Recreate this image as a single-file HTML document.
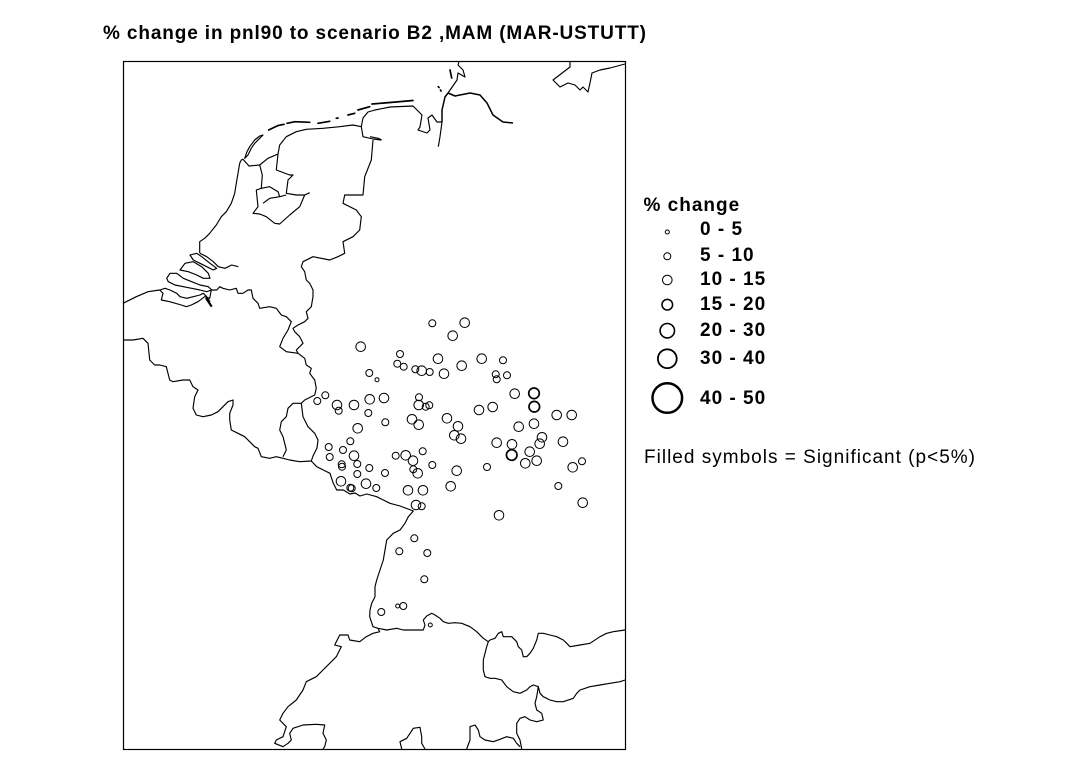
<!DOCTYPE html>
<html>
<head>
<meta charset="utf-8">
<style>
html,body{margin:0;padding:0;background:#fff;}
svg{display:block;}
text{font-family:"Liberation Sans",Arial,sans-serif;fill:#000;}
.b{font-weight:bold;font-size:19px;letter-spacing:1px;}
.m{fill:none;stroke:#000;stroke-width:1.15;stroke-linejoin:round;}
.t{fill:none;stroke:#000;stroke-width:1.7;stroke-linecap:round;}
.p{fill:none;stroke:none;}
.pa{marker-start:url(#ma);marker-mid:url(#ma);marker-end:url(#ma);}
.pb{marker-start:url(#mb);marker-mid:url(#mb);marker-end:url(#mb);}
.pc{marker-start:url(#mc);marker-mid:url(#mc);marker-end:url(#mc);}
.pd{marker-start:url(#md);marker-mid:url(#md);marker-end:url(#md);}
</style>
</head>
<body>
<svg width="1084" height="761" viewBox="0 0 1084 761" xmlns="http://www.w3.org/2000/svg">
<defs>
<marker id="ma" markerWidth="14" markerHeight="14" refX="7" refY="7" markerUnits="userSpaceOnUse" overflow="visible"><circle cx="7" cy="7" r="2" fill="none" stroke="#000" stroke-width="1"/></marker>
<marker id="mb" markerWidth="14" markerHeight="14" refX="7" refY="7" markerUnits="userSpaceOnUse" overflow="visible"><circle cx="7" cy="7" r="3.5" fill="none" stroke="#000" stroke-width="1"/></marker>
<marker id="mc" markerWidth="14" markerHeight="14" refX="7" refY="7" markerUnits="userSpaceOnUse" overflow="visible"><circle cx="7" cy="7" r="4.8" fill="none" stroke="#000" stroke-width="1"/></marker>
<marker id="md" markerWidth="14" markerHeight="14" refX="7" refY="7" markerUnits="userSpaceOnUse" overflow="visible"><circle cx="7" cy="7" r="5.3" fill="none" stroke="#000" stroke-width="1.7"/></marker>
</defs>
<rect x="0" y="0" width="1084" height="761" fill="#fff"/>
<text x="103" y="39" class="b" textLength="544" lengthAdjust="spacing">% change in pnl90 to scenario B2 ,MAM (MAR-USTUTT)</text>
<rect x="123.5" y="61.5" width="502" height="688" fill="none" stroke="#000" stroke-width="1.2"/>
<g class="m">
<path d="M199.7,253.3 L199.7,241.7 204.7,238.3 209.7,233.3 216.3,225 221.3,216.7 226.3,211.7 231.3,203.3 234.7,193.3 236.3,183.3 238,173.3 239.7,163.3 241.3,160 243,159.3 249,166 259.7,165 268,158.3 278,154 279.7,145 286.3,136.7 296.3,131.7 306.3,129.3 323,128.3 339.7,126.7 353,125 361.3,126.7 363,136.7 373,139 381.3,140"/>
<path d="M200,253.3 L206.7,256.7 213.3,261.7 218.3,266.7 225,268.3 231.7,265 238.3,266.7"/>
<path d="M190,255 L196.7,253.3 201.7,256.7 210,263.3 216.7,268.3 213.3,270 206.7,266.7 200,263.3 193.3,260 Z"/>
<path d="M180,270 L185,263.3 193.3,261.7 201.7,266.7 208.3,273.3 210,278.3 203.3,278.3 196.7,275 188.3,271.7 Z"/>
<path d="M166.7,278.3 L170,273.3 176.7,273.3 183.3,278.3 191.7,281.7 200,285 208.3,286.7 211.7,290 206.7,291.7 200,290 191.7,288.3 183.3,286.7 175,285 168.3,281.7 Z"/>
<path d="M160,290 L165,288.3 170,290 176.7,293.3 180,296.7 186.7,298.3 193.3,296.7 200,295 203.3,293.3 206.7,296.7 210,301.7"/>
<path d="M206,298 L211.7,306.7" stroke-width="2.2"/>
<path d="M123,303.3 L136.3,296.7 148,291.7 159.7,290 163,293.3 161.3,300 169.7,301.7 181.3,305 186.3,306.7 191.3,305 198,301.7 204.7,296.7 209.7,298.3 211.3,290 216.7,290 219.7,286.7 223,288.3 229.7,290 236.3,288.3 238,293.3 243,293.3 248,290 251.3,290 253,298.3 258,303.3 259.7,308.3 269.7,306.7 276.3,308.3 281.3,315 286.3,316.7 291.3,321.7 288,330 283,338.3 279.7,346.7 286.3,351.7 298,353.3"/>
<path d="M373,140 L371.3,160 364.7,176.7 363,195 344.7,195 343,203.3 356.3,210 361.3,216.7 359.7,230 353,236.7 343,241.7 344.7,253.3 338,256.7 329.7,260 313,256.7 303,261.7 301.3,266.7 304.7,271.7 306.3,280 309.7,283.3 313,290 313,296.7 311.3,306.7 306.3,311.7 308,318.3 304.7,321.7 298,325 293,328.3 294.7,331.7 299.7,336.7 303,343.3 296.3,350 298,353.3"/>
<path d="M298,353.3 L304.7,358.3 306.3,365 311.3,368.3 309.7,373.3 314.7,380 316.3,388.3 314.7,395 304.7,400 301.3,403.3"/>
<path d="M301.3,403.3 L293,403.3 288,408.3 286.3,416.7 281.3,421.7 279.7,430 283,436.7 284.7,443.3 286.3,450 283,456.7"/>
<path d="M301.3,403.3 L303,416.7 308,426.7 314.7,433.3 318,440 317,448 313,456 311.3,461 316.7,466.7 323.3,470 330,473.3 333.3,483.3 336.7,490 343.3,490 350,494 355,493 360,496 366.7,494 376.7,496.7 383.3,500 390,503.3 400,506 406.7,508.5 413.3,511 408.3,516.7 405,523.3 400,530 393.3,533.3 386.7,540 385,550 383.3,560 380,570 376.7,580 375,586.7 375,596.7 371.7,603.3 370,610 369.7,616.7 373,626.7 378,628.3 386.7,630 396.7,628.3 403.3,630 413.3,630 423.3,630 425,625 423.3,620 426.7,616 431.7,613.3 435,615 440,618.3 443.3,621.7 448.3,623.3 455,622.7 461.7,623.3 470,626.7 476.7,631.7 483.3,638.3 488.3,641.7 490,640 495,638.3 498.3,633.3 501.7,631.7 503.3,636.7 511.7,636.7 516.7,641.7 518.3,646.7 521.7,650 523.3,656.7 526.7,656.7 530,653.3 533.3,648.3 536.7,640 538.3,633.3 543.3,633.3 550,635 556.7,636.7 563.3,640 566.7,643.3 570,646.7 580,645 590,643.3 600,636.7 606.7,633.3 613.3,631.7 625,630"/>
<path d="M378,628.3 L379.7,631.7 373,633.3 366.3,636.7 359.7,641.7 349.7,640 348,635 339.7,635 334.7,645 341.3,646.7 336.3,656.7 323,670 316.3,676.7 306.3,681.7 303,690 296.3,700 288,706.7 283,713.3 279.7,720 286.3,726.7 283,736.7 276.3,740 274.7,743.3 283,746.7 288,743.3 291.3,740 289.7,733.3 293,728.3 303,725 316.3,724.3 324.7,725 323,733.3 326.3,740 324.7,746.7 323,749"/>
<path d="M488.3,641.7 L486.7,646.7 485,653.3 483.3,660 483.3,670 485,676.7 490,678.3 495,678.3 501.7,680 506.7,686.7 513.3,691.7 520,693.3 526.7,690 530,686.7 533.3,685 538.3,686.7 540,693.3 543.3,696.7 550,700 556.7,701.7 563.3,701.7 573.3,698.3 576.7,693.3 580,690 590,686.7 600,685 610,683.3 620,681.7 625,680"/>
<path d="M538.3,686.7 L536.7,696.7 535,703.3 536.7,710 541.7,713.3 543.3,720 536.7,721.7 530,720 525,716.7 520,718.3 516.7,723.3 516.7,733.3 520,740 521.7,749"/>
<path d="M466.7,749 L470,740 470,726.7 475,725 478.3,730 480,736.7 485,740 493.3,741.7 500,739.3 506.7,736.7 513.3,738.3 516.7,743.3 520,746.7"/>
<path d="M401.7,749 L400,741.7 406.7,738.3 410,733.3 413.3,728.3 420,727.3 421.7,736.7 421.7,743.3 425,749"/>
<path d="M123,340 L133,340 143,338.3 148,343.3 149.7,360 154.7,365 159.7,365 166.3,366.7 169.7,380 173,381.7 183,380 189.7,380 193,386.7 198,390 194.7,396.7 193,408.3 196.3,415 203,416.7 211.3,415 218,411.7 223,406.7 228,401.7 233,400 233,405 229.7,413.3 229.7,420 231.3,430 238,433.3 244.7,436.7 249.7,441.7 254.7,446.7 258,448.3 261.3,456.7 269.7,458.3 276.3,456.7 283,458.3 289.7,460 299.7,461.7 311.3,461"/>
<path d="M259.7,165 L262.3,175 261.3,188.3 256.3,190 258,206.7 253,213.3 259.7,214 266.3,216.7 274.7,223.3 279.7,224 289.7,215 299.7,206.7 304.7,195 309.7,192.7"/>
<path d="M278,154 L276.3,170 289.7,175 293,175 288,180 286.3,193.3 296.3,195 304.7,195"/>
<path d="M261.3,188.3 L269.7,186.7 278,191.7 279.7,196.7"/>
<path d="M263,203.3 L269.7,198.3 279.7,196.7 286.3,195"/>
<path d="M361.3,126.7 L363,118 368,112 375,110 390,107 413,106 417,110 422,115 420,127 418,130 427,133 430,130 428,118 432,115 437,122 442,122"/>
<path d="M442,122 L440,136.7 438.3,146.7"/>
<path d="M370,136.7 L378.3,138.3 381.7,140"/>
<path d="M442,122 L442,110 445,97 448,93 455,96 470,93 480,95 487,103 493,115 503,122 513,123" stroke-width="1.5"/>
<path d="M448,93 L457,80 458,73 465,77 463,70 458,65 459,61.5"/>
<path d="M570,61.5 L570,67 553,80 560,87 568,83 575,85 580,90 583,87 588,92 590,83 592,73 600,70 610,68 625,64"/>
<path d="M244.7,158.3 L247,151.7 249.7,146.7 254.7,140 259.7,136 263,135 259.7,138.3 254.7,143.3 251.3,148.3 248,155 Z"/>
</g>
<g class="t">
<path d="M268.7,130 L278,125.5 284,124.3 M287,123.3 L295,121.7 309.7,122.3 M318,123.3 L329.7,121.3 M336.3,118.3 L338,118 M348,115 L354.7,113.3 M358,110 L369.7,106.7 M372,104 L390,102.5 413,100.5 M450,70 L451.7,78 M438.3,86.7 L439,87.5 M440.5,90 L441,91"/>
</g>
<polyline class="p pa" points="377,379.7 397.7,606 430.3,625"/>
<polyline class="p pb" points="432.3,323.3 400,354 503,360.3 397.3,363.7 403.7,366.7 415.3,369.3 429.7,372 369.3,373 495.7,374.3 496.7,379.3 507,375.3 317.3,401 325.3,395.3 338.7,410.7 368.3,413 385.3,422.3 419,397.3 425.7,406.7 429.3,405.3 487,467 350.3,441.3 328.7,447 343,450 329.7,457 357.3,464 341.7,464.3 342,466.7 369.3,468 357.3,474 385,473 350.3,487.7 351.7,488.3 376.3,488 395.7,455.7 422.7,451.3 413.3,469.3 432.3,465 421.7,506.3 558.3,486 582,461.3 414.3,538.3 399.3,551.3 427.3,553 424.3,579.3 381.3,612 403.3,606"/>
<polyline class="p pc" points="464.7,322.7 452.7,335.7 360.7,346.7 438,358.7 481.7,358.7 421.7,370.7 444,373.7 461.7,365.7 514.7,393.7 337,405 354,405 369.7,399.3 384,398 418.7,405 412,419.3 418.7,424.7 447,418.3 458,426.3 454.3,435.3 461,438.7 479,410 492.7,407 518.7,426.7 534,423.7 542,437.3 539.7,443.7 556.7,415 571.7,415 563,441.7 496.7,442.7 512,444.3 529.7,451.7 525.3,463.3 536.7,460.7 357.7,428.3 354,455.7 341,481.3 366,483.7 405.7,455.3 413,460.7 417.7,473.3 456.7,470.7 450.7,486.3 408,490.3 423,490.3 416,505 499,515.3 582.7,502.7 572.7,467.3"/>
<polyline class="p pd" points="534,393.3 534.3,406.7 511.7,455"/>
<text x="643.5" y="211" class="b">% change</text>
<g fill="none" stroke="#000">
<circle cx="667.3" cy="232" r="2" stroke-width="1"/>
<circle cx="667.3" cy="256.3" r="3.5" stroke-width="1"/>
<circle cx="667.3" cy="280" r="4.8" stroke-width="1"/>
<circle cx="667.3" cy="304.7" r="5.3" stroke-width="1.5"/>
<circle cx="667.3" cy="330.7" r="7.2" stroke-width="1.6"/>
<circle cx="667.3" cy="358.7" r="9.4" stroke-width="1.8"/>
<circle cx="667.3" cy="398" r="14.8" stroke-width="2.5"/>
</g>
<text x="700" y="235" class="b">0 - 5</text>
<text x="700" y="261" class="b">5 - 10</text>
<text x="700" y="285" class="b">10 - 15</text>
<text x="700" y="310" class="b">15 - 20</text>
<text x="700" y="336" class="b">20 - 30</text>
<text x="700" y="364" class="b">30 - 40</text>
<text x="700" y="404" class="b">40 - 50</text>
<text x="644" y="463" style="font-size:19px" textLength="331" lengthAdjust="spacing">Filled symbols = Significant (p&lt;5%)</text>
</svg>
</body>
</html>
